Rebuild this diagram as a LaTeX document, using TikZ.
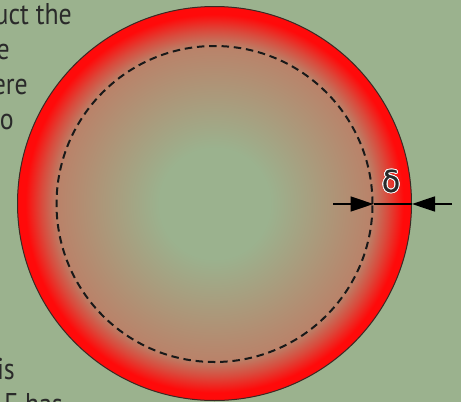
\documentclass[tikz,border=0pt]{standalone}
\usepackage{fontspec}
\setmainfont[FakeStretch=0.86]{PT Sans}
\newfontfamily\greekfont[FakeBold=0.6]{DejaVu Sans}
\usetikzlibrary{arrows.meta}
\definecolor{bgc}{HTML}{9BB28E}
\definecolor{brc}{HTML}{BA8269}
\definecolor{rimc}{HTML}{DA4A3C}
\definecolor{hotred}{HTML}{FF0A0A}
\definecolor{inkc}{HTML}{2A2A2A}
\definecolor{edgec}{HTML}{3A2A24}
\pgfdeclareradialshading{redglow}{\pgfpoint{0bp}{0bp}}{color(0bp)=(bgc); color(7bp)=(bgc); color(20bp)=(brc); color(22bp)=(rimc); color(24bp)=(hotred); color(25bp)=(hotred); color(50bp)=(hotred)}
\tikzset{
  txt/.style={font=\fontsize{30}{36}\selectfont, text=inkc, inner sep=0pt, anchor=base east},
  ringshape/.style={circle, inner sep=0pt, minimum size=394pt, draw=edgec, line width=1pt, shading=redglow},
  dashring/.style={circle, inner sep=0pt, minimum size=316pt, draw=black!90, line width=2pt, dash pattern=on 7.5pt off 4.8pt},
  dimline/.style={line width=1.5pt, draw=black},
  dimtip/.style={dimline, -{Triangle[length=23pt,width=15pt]}},
  greek/.style={font=\greekfont\fontsize{30}{34}\selectfont, inner sep=0pt}
}
\begin{document}
\begin{tikzpicture}[x=1pt,y=-1pt]
\useasboundingbox (0,0) rectangle (461,402);
\clip (0,0) rectangle (461,402);
\fill[bgc] (0,0) rectangle (461,402);
% clipped text lines on the left
\node[txt] (t1) at (72,24) {uct the};
\node[txt] (t2) at (10,59) {e};
\node[txt] (t3) at (28,94) {ere};
\node[txt] (t4) at (14,129) {o};
\node[txt] (t5) at (15,379) {is};
\node[txt] (t6) at (63,414) {E has};
% circles
\node[ringshape] (outer) at (214.5,203.5) {};
\node[dashring] (inner) at (214.5,204) {};
% dimension arrows
\coordinate (aL) at (333,204);
\coordinate (aR) at (452,204);
\coordinate (tipR) at (outer.east |- aR);
\draw[dimtip] (aL) -- (inner.east);
\draw[dimtip] (aR) -- (tipR);
\draw[dimline] (inner.east) -- (tipR);
% delta label with halo
\foreach \a in {0,30,...,330}{
  \node[greek, text=white] (h\a) at ([shift={(\a:0.9pt)}]391,181) {δ};
}
\node[greek, text=inkc] (delta) at (391,181) {δ};
\end{tikzpicture}
\end{document}
